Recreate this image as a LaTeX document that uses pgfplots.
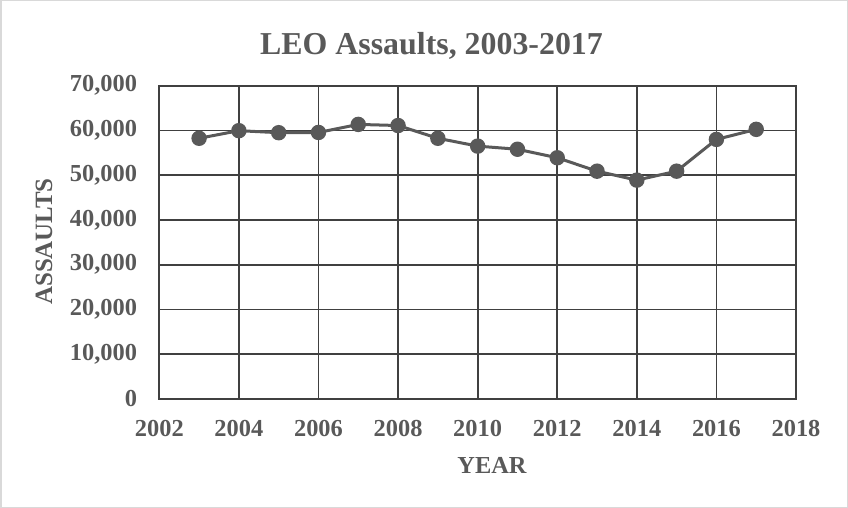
\documentclass[border=0pt]{standalone}
\usepackage{pgfplots}
\pgfplotsset{compat=1.18}
\usepackage{fontspec}
\setmainfont{Liberation Serif}
\definecolor{txt}{HTML}{595959}
\definecolor{gridc}{HTML}{404040}
\definecolor{ser}{HTML}{595959}
\definecolor{frame}{HTML}{D9D9D9}

\begin{document}
\begin{tikzpicture}
% chart area border
\draw[draw=frame, line width=1.5bp] (0.75bp,0.75bp) rectangle (847.25bp,507.25bp);
\begin{axis}[
  at={(159.3bp,109bp)}, anchor=south west,
  scale only axis, width=636.7bp, height=313.3bp,
  xmin=2002, xmax=2018, ymin=0, ymax=70000,
  xtick={2002,2004,...,2018}, ytick={0,10000,...,70000},
  grid=major, major grid style={draw=gridc, line width=1.8bp},
  axis line style={draw=gridc, line width=1.9bp},
  tick style={draw=none},
  scaled y ticks=false,
  /pgf/number format/assume math mode=true,
  x tick label style={/pgf/number format/1000 sep={}},
  y tick label style={/pgf/number format/1000 sep={,}},
  ticklabel style={font=\fontsize{24.5}{28}\selectfont\bfseries, text=txt},
  yticklabel style={inner sep=0pt, xshift=-22bp},
  xticklabel style={inner sep=0pt, yshift=-21bp},
]
\addplot[draw=ser, line width=3bp, mark=*, mark size=6.2bp,
  mark options={solid, fill=ser, draw=none}] coordinates {
  (2003,58250) (2004,59950) (2005,59500) (2006,59550) (2007,61350)
  (2008,61100) (2009,58250) (2010,56500) (2011,55800) (2012,53900)
  (2013,50900) (2014,48900) (2015,50900) (2016,58000) (2017,60250)
};
\end{axis}
% title and axis titles
\node[anchor=base, inner sep=0pt, text=txt, font=\fontsize{32}{36}\selectfont\bfseries]
  at (431.5bp,453bp) {LEO Assaults, 2003-2017};
\node[anchor=base, inner sep=0pt, text=txt, font=\fontsize{24.5}{28}\selectfont\bfseries]
  at (492bp,35bp) {YEAR};
\node[rotate=90, anchor=center, inner sep=0pt, text=txt, font=\fontsize{25}{28}\selectfont\bfseries]
  at (44bp,266.5bp) {ASSAULTS};
\end{tikzpicture}
\end{document}
